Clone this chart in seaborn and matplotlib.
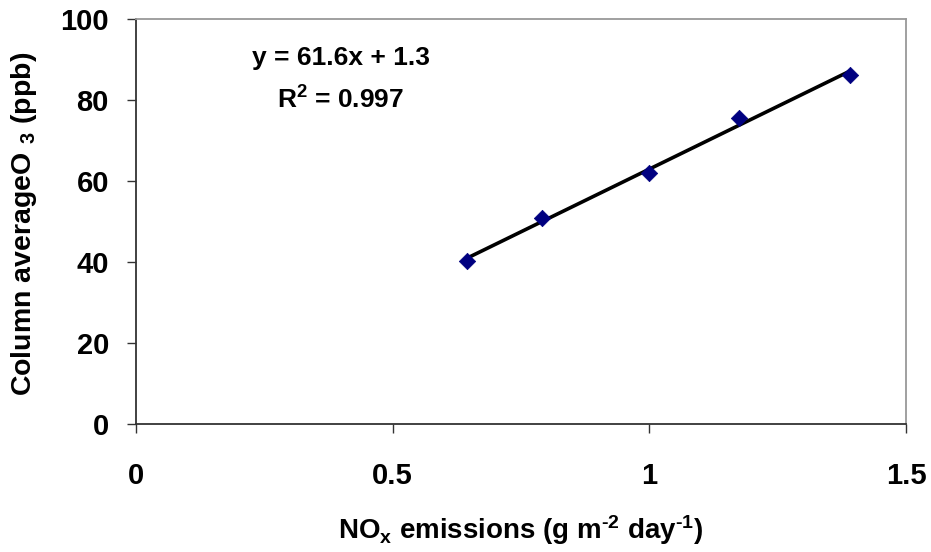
import matplotlib
matplotlib.use("Agg")
import matplotlib.pyplot as plt
import seaborn as sns
import numpy as np
import pandas as pd

# Data
nox_emissions = [0.645, 0.79, 1.0, 1.175, 1.39]
o3_column = [40.3, 50.8, 61.9, 75.5, 86.2]
x_ticks = [0, 0.5, 1, 1.5]
x_tick_labels = ["0", "0.5", "1", "1.5"]
y_ticks = [0, 20, 40, 60, 80, 100]
y_tick_labels = ["0", "20", "40", "60", "80", "100"]
eq_text = "y = 61.6x + 1.3"
r2_text = "R$^{2}$ = 0.997"
x_label = "NO$_{x}$ emissions (g m$^{\\text{-}2}$ day$^{\\text{-}1}$)"
y_label = "Column averageO$\\ _{3}$ (ppb)"

sns.set_style("white")
plt.rcParams["font.family"] = ["Liberation Sans", "DejaVu Sans"]
plt.rcParams["font.weight"] = "bold"
plt.rcParams["text.color"] = "black"
plt.rcParams["axes.labelcolor"] = "black"
plt.rcParams["xtick.color"] = "black"
plt.rcParams["ytick.color"] = "black"
plt.rcParams["axes.unicode_minus"] = False
plt.rcParams["mathtext.fontset"] = "custom"
plt.rcParams["mathtext.rm"] = "Liberation Sans:bold"
plt.rcParams["mathtext.it"] = "Liberation Sans:bold"
plt.rcParams["mathtext.bf"] = "Liberation Sans:bold"
plt.rcParams["mathtext.default"] = "bf"

df = pd.DataFrame({"x": nox_emissions, "y": o3_column})

fig = plt.figure(figsize=(9.31, 5.52), dpi=100)
ax = fig.add_axes([136 / 931, 1 - 424 / 552, 770 / 931, 405 / 552])

sns.regplot(data=df, x="x", y="y", ax=ax, ci=None, scatter=False,
            truncate=True, line_kws=dict(color="black", lw=2.6))
sns.scatterplot(data=df, x="x", y="y", ax=ax, marker="D", s=70,
                color="#000080", edgecolor="#000080", linewidth=0.5, zorder=3)

ax.set_xlim(0, 1.5)
ax.set_ylim(0, 100)
ax.set_xticks(x_ticks)
ax.set_xticklabels(x_tick_labels, fontsize=21, fontweight="bold", color="black")
ax.set_yticks(y_ticks)
ax.set_yticklabels(y_tick_labels, fontsize=21, fontweight="bold", color="black")
ax.tick_params(axis="x", direction="out", length=6.5, width=1, color="#333333", pad=21, bottom=True)
ax.tick_params(axis="y", direction="out", length=6.5, width=1, color="#333333", pad=13, left=True)

ax.set_xlabel("")
ax.set_ylabel("")
fig.text(521 / 931, 1 - 530 / 552, x_label, ha="center", va="center",
         fontsize=20, fontweight="bold", color="black")
fig.text(24 / 931, 1 - 224 / 552, y_label, ha="center", va="center", rotation=90,
         fontsize=20.5, fontweight="bold", color="black")

for side in ["left", "bottom"]:
    ax.spines[side].set_color("#333333")
    ax.spines[side].set_linewidth(1.3)
for side in ["top", "right"]:
    ax.spines[side].set_color("#999999")
    ax.spines[side].set_linewidth(1.3)

ax.text(0.266, 0.904, eq_text, transform=ax.transAxes, ha="center", va="center",
        fontsize=19, fontweight="bold", color="black")
ax.text(0.266, 0.800, r2_text, transform=ax.transAxes, ha="center", va="center",
        fontsize=19, fontweight="bold", color="black")

fig.savefig("out.png", dpi=100, facecolor="white")
